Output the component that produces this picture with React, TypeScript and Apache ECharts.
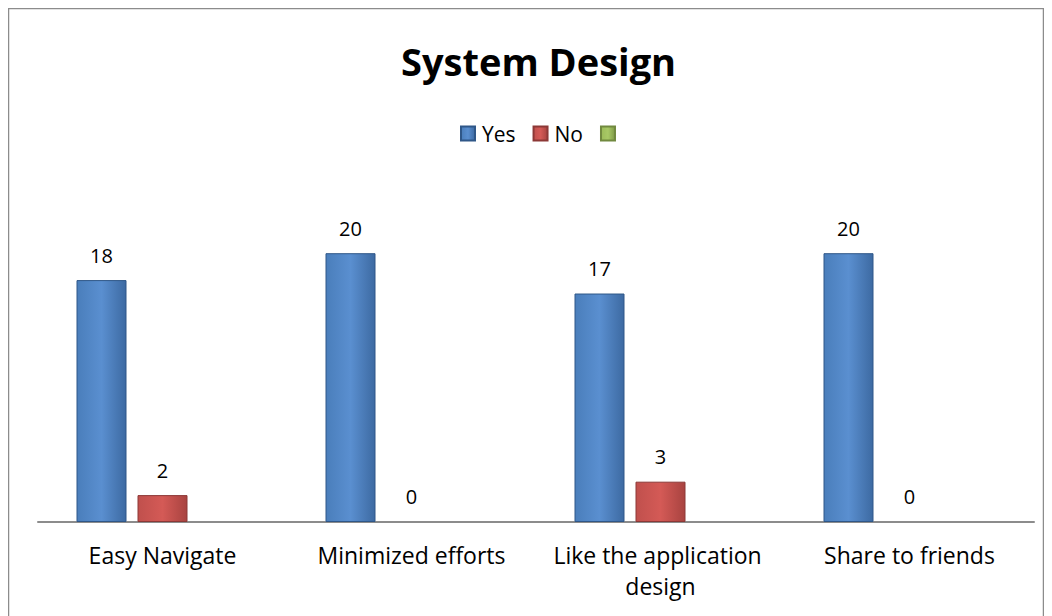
import React, { useEffect, useRef } from "react";
import * as echarts from "echarts";

const categories = ["Easy Navigate", "Minimized efforts", "Like the application design", "Share to friends"];
const yesValues = [18, 20, 17, 20];
const noValues = [2, 0, 3, 0];
const thirdValues: (number | null)[] = [null, null, null, null];
const seriesNames = ["Yes", "No", " "];

const FONT = "'Open Sans', 'Noto Sans', sans-serif";

function grad(light: string, mid: string, dark: string) {
  return new echarts.graphic.LinearGradient(0, 0, 1, 0, [
    { offset: 0, color: mid },
    { offset: 0.5, color: light },
    { offset: 1, color: dark },
  ]);
}

function toItems(values: number[]) {
  return values.map((v) =>
    v === 0 ? { value: v, itemStyle: { borderWidth: 0 }, label: { distance: 16 } } : v
  );
}

export default function App() {
  const ref = useRef<HTMLDivElement>(null);
  useEffect(() => {
    if (!ref.current) return;
    const chart = echarts.init(ref.current, null, { renderer: "svg" });
    const labelStyle = {
      show: true,
      position: "top" as const,
      distance: 15,
      color: "#000",
      fontSize: 20,
      fontFamily: FONT,
    };
    chart.setOption({
      animation: false,
      backgroundColor: "#fff",
      title: {
        text: "System Design",
        left: 388,
        top: 29,
        textStyle: { fontSize: 38, fontWeight: "bold", color: "#000", fontFamily: FONT },
      },
      legend: {
        top: 110,
        left: 447,
        itemWidth: 14,
        itemHeight: 14,
        itemGap: 17,
        icon: "rect",
        textStyle: { fontSize: 21, color: "#000", fontFamily: FONT, padding: [0, 0, 0, 2] },
        data: seriesNames,
      },
      graphic: [
        {
          type: "rect",
          shape: { x: 0.5, y: 0.5, width: 1035, height: 640 },
          style: { fill: "none", stroke: "#8c8c8c", lineWidth: 1.5 },
          silent: true,
        },
      ],
      grid: { left: 30, right: 10, top: 178, bottom: 94 },
      xAxis: {
        type: "category",
        data: categories,
        axisLine: { lineStyle: { color: "#8c8c8c", width: 2 } },
        axisTick: { show: false },
        axisLabel: {
          color: "#000",
          fontSize: 23,
          fontFamily: FONT,
          margin: 17,
          width: 240,
          overflow: "break",
          lineHeight: 31,
          interval: 0,
        },
      },
      yAxis: {
        type: "value",
        min: 0,
        max: 25,
        show: false,
        splitLine: { show: false },
      },
      series: [
        {
          name: seriesNames[0],
          type: "bar",
          data: toItems(yesValues),
          barWidth: 50,
          barGap: "22%",
          itemStyle: {
            color: grad("#5a8fd0", "#4a7ebb", "#3d6aa2"),
            borderColor: "#2f5788",
            borderWidth: 1,
          },
          label: labelStyle,
        },
        {
          name: seriesNames[1],
          type: "bar",
          data: toItems(noValues),
          barWidth: 50,
          barGap: "22%",
          itemStyle: {
            color: grad("#d45a56", "#c0504d", "#a84340"),
            borderColor: "#8c3836",
            borderWidth: 1,
          },
          label: labelStyle,
        },
        {
          name: seriesNames[2],
          type: "bar",
          data: thirdValues,
          barWidth: 50,
          barGap: "22%",
          itemStyle: {
            color: grad("#a9c966", "#9bbb59", "#7f9a48"),
            borderColor: "#71893f",
            borderWidth: 1,
          },
        },
      ],
    });
    return () => chart.dispose();
  }, []);
  return <div ref={ref} style={{ width: 1036, height: 608 }} />;
}
